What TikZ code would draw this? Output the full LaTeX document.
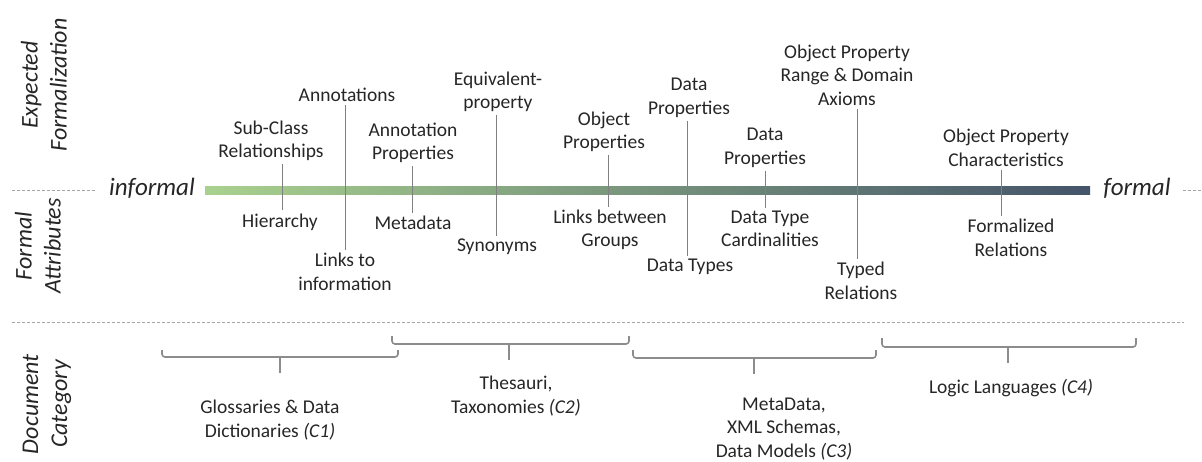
\documentclass[tikz,border=0pt]{standalone}
\usepackage{fontspec}
\setmainfont{Carlito}
\usepackage{xcolor}
\usepackage{tikz}
\usetikzlibrary{arrows}

\definecolor{txt}{HTML}{262626}
\definecolor{tickgray}{HTML}{808080}
\definecolor{sepgray}{HTML}{A6A6A6}
\definecolor{bracegray}{HTML}{8C8C8C}
\definecolor{barleft}{HTML}{A9D18E}
\definecolor{barright}{HTML}{44546A}

\tikzset{
    lbl/.style = {font = \fontsize{19.5}{23.5}\selectfont, text = txt,
        align = center, inner sep = 3pt},
    axislbl/.style = {font = \fontsize{24}{29}\selectfont\itshape, text = txt,
        align = center, rotate = 90, inner sep = 0pt},
    tick/.style = {draw = tickgray, line width = 1pt},
    sepline/.style = {draw = sepgray, line width = 0.8pt, dash pattern = on 3pt off 2pt},
    brace/.style = {draw = bracegray, line width = 1.6pt, rounded corners = 3pt}
}

\begin{document}
\begin{tikzpicture}[x = 1pt, y = -1pt]
        \useasboundingbox (0, 0) rectangle (1202, 461);

        % rows on the left
        \node [axislbl] (expform) at (44, 85) {Expected\\Formalization};
        \node [axislbl] (formattr) at (38, 246) {Formal\\Attributes};
        \node [axislbl] (doccat) at (47, 404) {Document\\Category};

        \draw [sepline] (12, 190) -- (95, 190);
        \draw [sepline] (1183, 190) -- (1202, 190);
        \draw [sepline] (12, 322) -- (1184, 322);

        % the scale
        \node [text = txt, font = \fontsize{25}{30}\selectfont\itshape] (informal) at (152, 188) {informal};
        \node [text = txt, font = \fontsize{25}{30}\selectfont\itshape] (formal) at (1137, 188) {formal};
        \shade [left color = barleft, right color = barright] (205, 186) rectangle (1090, 194);

        % labels above and below the scale
        \node [lbl] (subcls) at (271, 141) {Sub-Class\\Relationships};
        \node [lbl] (hier) at (280, 222) {Hierarchy};
        \node [lbl] (annot) at (347, 95) {Annotations};
        \node [lbl] (linksinfo) at (345, 272) {Links to\\information};
        \node [lbl] (annotprop) at (413, 143) {Annotation\\Properties};
        \node [lbl] (metadata) at (413, 223) {Metadata};
        \node [lbl] (equiv) at (498, 92) {Equivalent-\\property};
        \node [lbl] (synon) at (497, 247) {Synonyms};
        \node [lbl] (objprop) at (604, 132) {Object\\Properties};
        \node [lbl] (linksgrp) at (610, 230) {Links between\\Groups};
        \node [lbl] (dataprop) at (689, 98) {Data\\Properties};
        \node [lbl] (datatypes) at (690, 267) {Data Types};
        \node [lbl] (dataproplo) at (765, 148) {Data\\Properties};
        \node [lbl] (datacard) at (770, 229) {Data Type\\Cardinalities};
        \node [lbl] (rangedom) at (847, 75) {Object Property\\Range \& Domain\\Axioms};
        \node [lbl] (typedrel) at (861, 281) {Typed\\Relations};
        \node [lbl] (objchar) at (1006, 148) {Object Property\\Characteristics};
        \node [lbl] (formrel) at (1011, 238) {Formalized\\Relations};

        \draw [tick] (282, 0 |- subcls.south) -- (282, 0 |- hier.north);
        \draw [tick] (345, 0 |- annot.south) -- (345, 0 |- linksinfo.north);
        \draw [tick] (412, 0 |- annotprop.south) -- (412, 0 |- metadata.north);
        \draw [tick] (496, 0 |- equiv.south) -- (496, 0 |- synon.north);
        \draw [tick] (608, 0 |- objprop.south) -- (608, 0 |- linksgrp.north);
        \draw [tick] (687, 0 |- dataprop.south) -- (687, 0 |- datatypes.north);
        \draw [tick] (765, 0 |- dataproplo.south) -- (765, 0 |- datacard.north);
        \draw [tick] (857, 0 |- rangedom.south) -- (857, 0 |- typedrel.north);
        \draw [tick] (1001, 0 |- objchar.south) -- (1001, 0 |- formrel.north);

        % document categories
        \draw [brace] (162, 350) -- (162, 357) -- (398, 357) -- (398, 350);
        \draw [brace] (280, 357) -- (280, 373);
        \node [lbl] (cone) at (270, 420) {Glossaries \& Data\\Dictionaries \textit{(C1)}};

        \draw [brace] (392, 336) -- (392, 344) -- (629, 344) -- (629, 336);
        \draw [brace] (509, 344) -- (509, 360);
        \node [lbl] (ctwo) at (516, 396) {Thesauri,\\Taxonomies \textit{(C2)}};

        \draw [brace] (633, 350) -- (633, 358) -- (876, 358) -- (876, 350);
        \draw [brace] (754, 358) -- (754, 374);
        \node [lbl] (cthree) at (784, 429) {MetaData,\\XML Schemas,\\Data Models \textit{(C3)}};

        \draw [brace] (882, 338) -- (882, 347) -- (1136, 347) -- (1136, 338);
        \draw [brace] (1008, 347) -- (1008, 363);
        \node [lbl] (cfour) at (1011, 388) {Logic Languages \textit{(C4)}};
\end{tikzpicture}
\end{document}
